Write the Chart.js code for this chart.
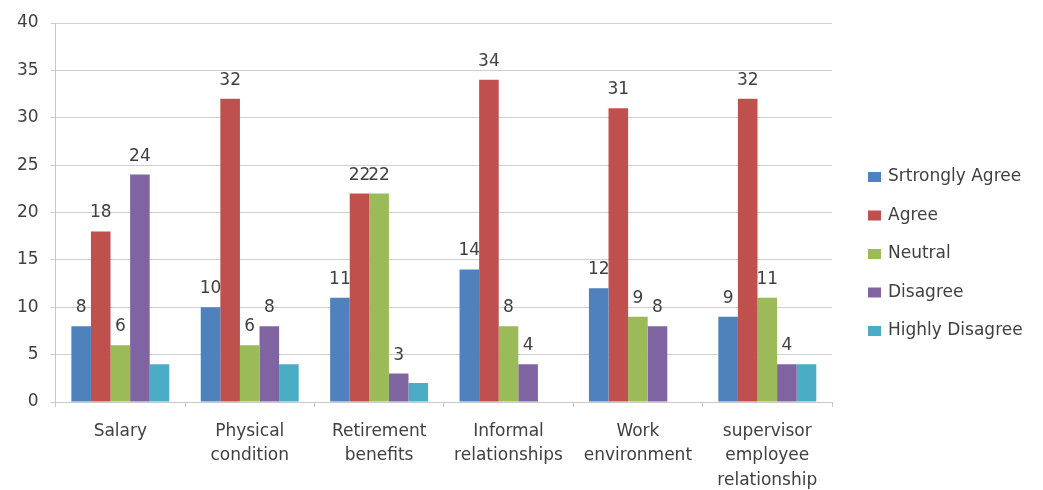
<!DOCTYPE html>
<html>
<head>
<meta charset="utf-8">
<script src="https://cdn.jsdelivr.net/npm/chart.js@4/dist/chart.umd.min.js"></script>
<style>
  html, body { margin: 0; padding: 0; background: #fff; overflow: hidden; }
  #wrap { width: 1043px; height: 495px; position: relative; }
</style>
</head>
<body>
<div id="wrap"><canvas id="survey-chart"></canvas></div>
<script>
// Chart data
const categories = [
  ['Salary'],
  ['Physical', 'condition'],
  ['Retirement', 'benefits'],
  ['Informal', 'relationships'],
  ['Work', 'environment'],
  ['supervisor', 'employee', 'relationship']
];
const seriesNames = ['Srtrongly Agree', 'Agree', 'Neutral', 'Disagree', 'Highly Disagree'];
const stronglyAgree = [8, 10, 11, 14, 12, 9];
const agree = [18, 32, 22, 34, 31, 32];
const neutral = [6, 6, 22, 8, 9, 11];
const disagree = [24, 8, 3, 4, 8, 4];
const highlyDisagree = [4, 4, 2, 0, 0, 4];
const yTicks = [0, 5, 10, 15, 20, 25, 30, 35, 40];

const colors = ['#4F81BD', '#C0504D', '#9BBB59', '#8064A2', '#4BACC6'];
const fontFamily = '"DejaVu Sans", sans-serif';
const textColor = '#404040';

// value labels on top of the first four series
const valueLabels = {
  id: 'valueLabels',
  afterDatasetsDraw(chart) {
    const ctx = chart.ctx;
    ctx.save();
    ctx.font = '17px ' + fontFamily;
    ctx.fillStyle = textColor;
    ctx.textAlign = 'center';
    ctx.textBaseline = 'alphabetic';
    chart.data.datasets.forEach((ds, i) => {
      if (i > 3) return;
      chart.getDatasetMeta(i).data.forEach((bar, j) => {
        ctx.fillText(String(ds.data[j]), bar.x, bar.y - 14);
      });
    });
    ctx.restore();
  }
};

// legend on the right, drawn by hand so it sits where the original does
const sideLegend = {
  id: 'sideLegend',
  afterDraw(chart) {
    const ctx = chart.ctx;
    ctx.save();
    ctx.font = '17px ' + fontFamily;
    ctx.textBaseline = 'middle';
    chart.data.datasets.forEach((ds, i) => {
      const y = 177 + i * 38.5;
      ctx.fillStyle = ds.backgroundColor;
      ctx.fillRect(868, y - 5, 13, 10);
      ctx.fillStyle = textColor;
      ctx.fillText(ds.label, 888, y);
    });
    ctx.restore();
  }
};

const allSeries = [stronglyAgree, agree, neutral, disagree, highlyDisagree];

new Chart(document.getElementById('survey-chart'), {
  type: 'bar',
  data: {
    labels: categories,
    datasets: allSeries.map((values, i) => ({
      label: seriesNames[i],
      data: values,
      backgroundColor: colors[i],
      borderWidth: 0,
      categoryPercentage: 0.757,
      barPercentage: 1.0
    }))
  },
  options: {
    responsive: true,
    maintainAspectRatio: false,
    animation: false,
    layout: { padding: { top: 23, right: 211, left: 5, bottom: -10 } },
    plugins: {
      legend: { display: false },
      tooltip: { enabled: false }
    },
    scales: {
      x: {
        grid: {
          display: true,
          drawOnChartArea: false,
          offset: true,
          tickLength: 5,
          color: '#c8c8c8'
        },
        border: { color: '#c8c8c8' },
        ticks: {
          color: textColor,
          font: { family: fontFamily, size: 17, lineHeight: 1.45 },
          padding: 12,
          maxRotation: 0,
          autoSkip: false
        }
      },
      y: {
        min: 0,
        max: 40,
        afterBuildTicks(axis) {
          axis.ticks = yTicks.map(v => ({ value: v }));
        },
        grid: { color: '#cfcfcf', tickLength: 5 },
        border: { color: '#c8c8c8' },
        ticks: {
          color: textColor,
          font: { family: fontFamily, size: 17 },
          padding: 12
        }
      }
    }
  },
  plugins: [valueLabels, sideLegend]
});
</script>
</body>
</html>
